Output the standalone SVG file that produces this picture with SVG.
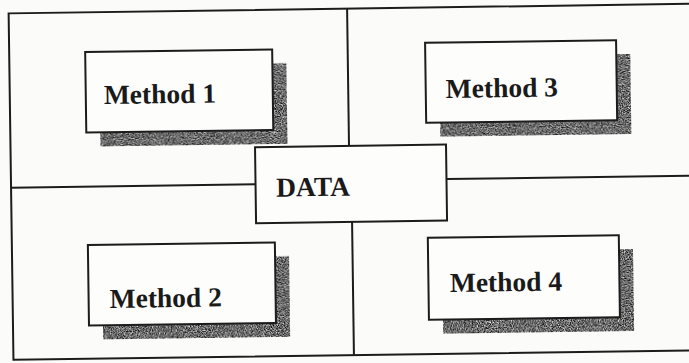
<svg xmlns="http://www.w3.org/2000/svg" width="689" height="363" viewBox="0 0 689 363">
  <style>
    .frame { fill: none; stroke: #1c1c1c; stroke-width: 2; }
    .divider { stroke: #1c1c1c; stroke-width: 2; fill: none; }
    .box { fill: #fdfdfc; stroke: #1c1c1c; stroke-width: 2; }
    .shadow { fill: #6c6c6c; filter: url(#grain); }
    .label { font-family: "Liberation Serif", "Times New Roman", serif; font-weight: bold; font-size: 27.5px; fill: #1a1a1a; }
  </style>
  <defs>
    <!-- speckled grey texture for the drop shadows -->
    <filter id="grain" x="0" y="0" width="1" height="1" color-interpolation-filters="sRGB">
      <feTurbulence type="fractalNoise" baseFrequency="0.85" numOctaves="2" seed="7" result="noise"/>
      <feColorMatrix in="noise" type="matrix" values="1.6 0 0 0 -0.38  1.6 0 0 0 -0.38  1.6 0 0 0 -0.38  0 0 0 0 1" result="grey"/>
      <feComposite in="grey" in2="SourceGraphic" operator="in"/>
    </filter>
  </defs>

  <rect x="0" y="0" width="689" height="363" fill="#fbfbfa"/>

  <g transform="rotate(-0.8 344 181)">
    <g id="frame">
      <rect class="frame" x="11" y="8.7" width="690" height="346.5"/>
    </g>

    <g id="connectors">
      <line class="divider" x1="349.5" y1="8.7" x2="349.5" y2="146"/>
      <line class="divider" x1="351.5" y1="222" x2="351.5" y2="355.2"/>
      <line class="divider" x1="11" y1="183" x2="255.5" y2="183"/>
      <line class="divider" x1="446.5" y1="180.5" x2="701" y2="180.5"/>
    </g>

    <g id="method1">
      <rect class="shadow" x="101" y="62.5" width="187" height="80.5"/>
      <rect class="box" x="87" y="48.5" width="187" height="80.5"/>
      <text class="label" x="105" y="100.7">Method 1</text>
    </g>

    <g id="method3">
      <rect class="shadow" x="441" y="58" width="191" height="80"/>
      <rect class="box" x="427" y="44" width="191" height="80"/>
      <text class="label" x="447" y="99.4">Method 3</text>
    </g>

    <g id="method2">
      <rect class="shadow" x="101" y="255.5" width="187" height="80.5"/>
      <rect class="box" x="87" y="241.5" width="187" height="80.5"/>
      <text class="label" x="108" y="304.7">Method 2</text>
    </g>

    <g id="method4">
      <rect class="shadow" x="441" y="253" width="191" height="82"/>
      <rect class="box" x="427" y="239" width="191" height="82"/>
      <text class="label" x="448.4" y="293.5">Method 4</text>
    </g>

    <g id="data">
      <rect class="box" x="255.5" y="146" width="191" height="76"/>
      <text class="label" x="276" y="195.7">DATA</text>
    </g>
  </g>
</svg>
